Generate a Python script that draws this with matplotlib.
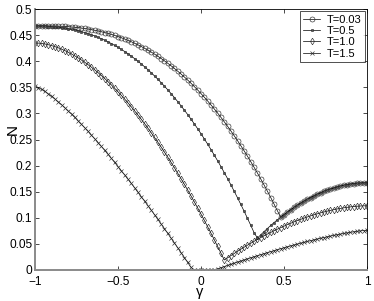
import numpy as np
import matplotlib
matplotlib.use("Agg")
import matplotlib.pyplot as plt

plt.rcParams['font.family'] = ['Liberation Sans', 'DejaVu Sans']

gamma = np.linspace(-1, 1, 101)

n_t003 = [0.4680, 0.4680, 0.4680, 0.4679, 0.4678, 0.4677, 0.4675, 0.4673, 0.4670, 0.4666,
          0.4662, 0.4656, 0.4650, 0.4643, 0.4635, 0.4627, 0.4617, 0.4605, 0.4593, 0.4580,
          0.4565, 0.4549, 0.4532, 0.4514, 0.4494, 0.4473, 0.4450, 0.4426, 0.4400, 0.4373,
          0.4344, 0.4314, 0.4282, 0.4248, 0.4212, 0.4175, 0.4136, 0.4095, 0.4052, 0.4007,
          0.3960, 0.3912, 0.3861, 0.3808, 0.3754, 0.3697, 0.3638, 0.3577, 0.3513, 0.3448,
          0.3380, 0.3310, 0.3238, 0.3163, 0.3086, 0.3007, 0.2925, 0.2840, 0.2754, 0.2664,
          0.2572, 0.2478, 0.2381, 0.2282, 0.2179, 0.2074, 0.1967, 0.1857, 0.1743, 0.1628,
          0.1509, 0.1388, 0.1263, 0.1136, 0.1013,
          0.1062, 0.1110, 0.1156, 0.1200, 0.1241, 0.1281, 0.1319, 0.1355, 0.1389, 0.1421,
          0.1451, 0.1479, 0.1506, 0.1530, 0.1552, 0.1573, 0.1591, 0.1608, 0.1622, 0.1635,
          0.1646, 0.1654, 0.1661, 0.1666, 0.1669, 0.1670]

n_t05 = [0.4670, 0.4670, 0.4669, 0.4667, 0.4665, 0.4661, 0.4656, 0.4650, 0.4642, 0.4633,
         0.4623, 0.4611, 0.4598, 0.4583, 0.4567, 0.4548, 0.4528, 0.4507, 0.4483, 0.4458,
         0.4431, 0.4402, 0.4371, 0.4338, 0.4303, 0.4266, 0.4227, 0.4186, 0.4143, 0.4097,
         0.4050, 0.4000, 0.3948, 0.3894, 0.3838, 0.3779, 0.3718, 0.3655, 0.3589, 0.3521,
         0.3451, 0.3378, 0.3303, 0.3225, 0.3144, 0.3062, 0.2977, 0.2889, 0.2798, 0.2706,
         0.2610, 0.2512, 0.2411, 0.2308, 0.2201, 0.2093, 0.1981, 0.1867, 0.1751, 0.1631,
         0.1508, 0.1383, 0.1255, 0.1124, 0.0990, 0.0854, 0.0714,
         0.0611, 0.0675, 0.0736, 0.0795, 0.0853, 0.0908, 0.0961, 0.1013, 0.1062, 0.1110,
         0.1156, 0.1200, 0.1241, 0.1281, 0.1319, 0.1355, 0.1389, 0.1421, 0.1451, 0.1479,
         0.1506, 0.1530, 0.1552, 0.1573, 0.1591, 0.1608, 0.1622, 0.1635, 0.1646, 0.1654,
         0.1661, 0.1666, 0.1669, 0.1670]

n_t10 = [0.4350, 0.4347, 0.4340, 0.4330, 0.4316, 0.4299, 0.4279, 0.4257, 0.4231, 0.4203,
         0.4172, 0.4138, 0.4102, 0.4064, 0.4022, 0.3979, 0.3933, 0.3885, 0.3834, 0.3781,
         0.3725, 0.3668, 0.3608, 0.3546, 0.3481, 0.3415, 0.3346, 0.3275, 0.3202, 0.3126,
         0.3049, 0.2969, 0.2888, 0.2804, 0.2718, 0.2630, 0.2540, 0.2448, 0.2354, 0.2258,
         0.2160, 0.2060, 0.1958, 0.1853, 0.1747, 0.1640, 0.1530, 0.1418, 0.1303, 0.1188,
         0.1070, 0.0950, 0.0829, 0.0705, 0.0579, 0.0452, 0.0323, 0.0192,
         0.0233, 0.0276, 0.0317, 0.0358, 0.0398, 0.0437, 0.0476, 0.0513, 0.0550, 0.0586,
         0.0621, 0.0654, 0.0688, 0.0720, 0.0751, 0.0782, 0.0811, 0.0840, 0.0868, 0.0895,
         0.0921, 0.0946, 0.0970, 0.0993, 0.1015, 0.1036, 0.1056, 0.1075, 0.1094, 0.1111,
         0.1127, 0.1142, 0.1156, 0.1169, 0.1180, 0.1191, 0.1201, 0.1209, 0.1216, 0.1222,
         0.1226, 0.1229, 0.1230]

n_t15 = [0.3520, 0.3496, 0.3461, 0.3420, 0.3375, 0.3327, 0.3276, 0.3222, 0.3166, 0.3108,
         0.3048, 0.2987, 0.2923, 0.2859, 0.2792, 0.2724, 0.2655, 0.2585, 0.2513, 0.2441,
         0.2367, 0.2292, 0.2216, 0.2139, 0.2061, 0.1982, 0.1902, 0.1822, 0.1740, 0.1658,
         0.1575, 0.1490, 0.1406, 0.1320, 0.1234, 0.1147, 0.1059, 0.0970, 0.0881, 0.0791,
         0.0700, 0.0609, 0.0518, 0.0425, 0.0332, 0.0238, 0.0144, 0.0049,
         0.0, 0.0, 0.0, 0.0, 0.0, 0.0, 0.0,
         0.0022, 0.0044, 0.0066, 0.0088, 0.0109, 0.0130, 0.0152, 0.0172, 0.0193, 0.0214,
         0.0234, 0.0254, 0.0274, 0.0294, 0.0314, 0.0333, 0.0352, 0.0371, 0.0390, 0.0408,
         0.0426, 0.0444, 0.0462, 0.0479, 0.0496, 0.0513, 0.0530, 0.0546, 0.0562, 0.0577,
         0.0593, 0.0607, 0.0622, 0.0636, 0.0650, 0.0663, 0.0676, 0.0688, 0.0700, 0.0711,
         0.0722, 0.0732, 0.0741, 0.0749, 0.0756, 0.0760]

labels = ["T=0.03", "T=0.5", "T=1.0", "T=1.5"]
series = [n_t003, n_t05, n_t10, n_t15]
markers = ["o", "s", "d", "x"]
msizes = [3.6, 1.4, 3.4, 2.6]

xticks = [-1, -0.5, 0, 0.5, 1]
xticklabels = ["\u22121", "\u22120.5", "0", "0.5", "1"]
yticks = [0, 0.05, 0.1, 0.15, 0.2, 0.25, 0.3, 0.35, 0.4, 0.45, 0.5]
yticklabels = ["0", "0.05", "0.1", "0.15", "0.2", "0.25", "0.3", "0.35", "0.4", "0.45", "0.5"]

fig = plt.figure(figsize=(3.74, 3.01), dpi=100)
ax = fig.add_axes([0.0936, 0.103, 0.8877, 0.867])

for y, lab, m, ms in zip(series, labels, markers, msizes):
    ax.plot(gamma, y, color="black", lw=0.5, marker=m, ms=ms,
            mfc="none" if m in "od" else "#555555",
            mec="#2a2a2a", mew=0.45, label=lab)

ax.set_xlim(-1, 1)
ax.set_ylim(0, 0.5)
ax.set_xticks(xticks)
ax.set_xticklabels(xticklabels)
ax.set_yticks(yticks)
ax.set_yticklabels(yticklabels)
ax.tick_params(direction="in", top=True, right=True, labelsize=8.6, length=3, width=0.5)
ax.tick_params(axis="y", pad=2)
ax.tick_params(axis="x", pad=4)

for s in ["left", "bottom"]:
    ax.spines[s].set_color("#8a8a8a")
    ax.spines[s].set_linewidth(1.4)
for s in ["top", "right"]:
    ax.spines[s].set_linewidth(0.6)

ax.set_xlabel("\u03b3", fontsize=10.5)
ax.xaxis.set_label_coords(0.497, -0.058)
ax.set_ylabel("N", fontsize=11)
ax.yaxis.set_label_coords(-0.045, 0.54)

leg = ax.legend(loc="upper right", fontsize=8, frameon=True, fancybox=False, handlelength=1.5,
                borderpad=0.3, labelspacing=0.12, handletextpad=0.6, borderaxespad=0.2)
leg.get_frame().set_edgecolor("black")
leg.get_frame().set_linewidth(0.6)

fig.savefig("out.png", dpi=100)
